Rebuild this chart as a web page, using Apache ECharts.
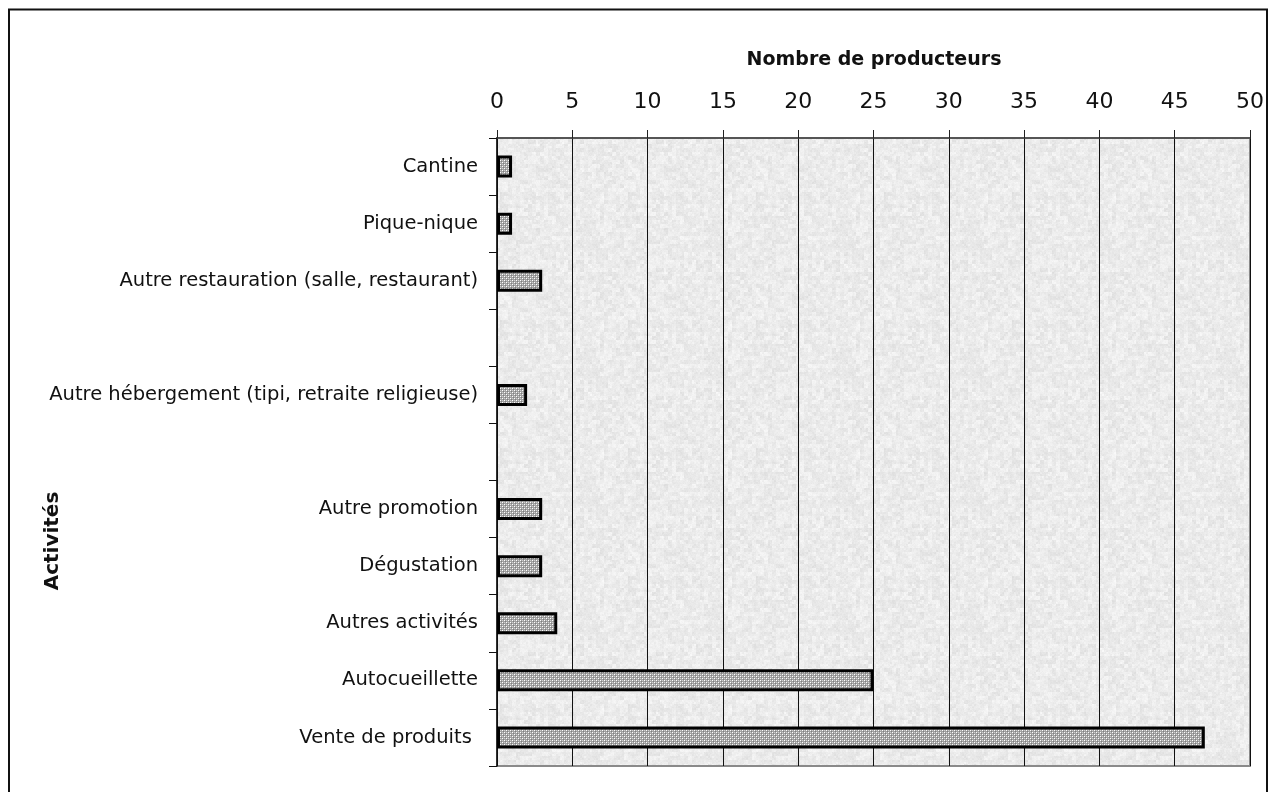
<!DOCTYPE html>
<html>
<head>
<meta charset="utf-8">
<script src="https://cdn.jsdelivr.net/npm/echarts@6/dist/echarts.min.js"></script>
<style>
html,body{margin:0;padding:0;background:#fff;}
#chart{width:1270px;height:792px;}
</style>
</head>
<body>
<div id="chart"></div>
<script>
// ---- data ----
var categories = [
  'Cantine',
  'Pique-nique',
  'Autre restauration (salle, restaurant)',
  '',
  'Autre hébergement (tipi, retraite religieuse)',
  ' ',
  'Autre promotion',
  'Dégustation',
  'Autres activités',
  'Autocueillette',
  'Vente de produits '
];
var producteurs = [1, 1, 3, null, 2, null, 3, 3, 4, 25, 47];
var xTicks = [0, 5, 10, 15, 20, 25, 30, 35, 40, 45, 50];
var xTitle = 'Nombre de producteurs';
var yTitle = 'Activités';

// ---- textures ----
function hatchPattern() {
  var c = document.createElement('canvas');
  c.width = 4; c.height = 4;
  var g = c.getContext('2d');
  g.fillStyle = '#a0a0a0';
  g.fillRect(0, 0, 4, 4);
  g.fillStyle = '#ffffff';
  g.fillRect(0, 0, 1, 1);
  g.fillRect(2, 2, 1, 1);
  g.fillStyle = '#d0d0d0';
  g.fillRect(2, 0, 1, 1);
  g.fillRect(0, 2, 1, 1);
  g.fillStyle = '#808080';
  g.fillRect(1, 1, 1, 1);
  g.fillRect(3, 3, 1, 1);
  return c;
}
function noisePattern() {
  var n = 128;
  var c = document.createElement('canvas');
  c.width = n; c.height = n;
  var g = c.getContext('2d');
  var img = g.createImageData(n, n);
  function h(x, y) {
    var s = Math.sin(x * 127.1 + y * 311.7) * 43758.5453;
    return s - Math.floor(s);
  }
  for (var y = 0; y < n; y++) {
    for (var x = 0; x < n; x++) {
      var v = 0.5 * h(Math.floor(x / 4), Math.floor(y / 4)) + 0.3 * h(Math.floor(x / 2) + 50, Math.floor(y / 2) + 17) + 0.2 * h(x + 91, y + 7);
      var c8 = Math.round(220 + v * 30);
      var i = (y * n + x) * 4;
      img.data[i] = c8; img.data[i + 1] = c8; img.data[i + 2] = c8; img.data[i + 3] = 255;
    }
  }
  g.putImageData(img, 0, 0);
  return c;
}

var chart = echarts.init(document.getElementById('chart'), null, {renderer: 'canvas'});
var option = {
  animation: false,
  backgroundColor: '#ffffff',
  grid: {
    left: 497, top: 138, right: 20, bottom: 26,
    show: true,
    backgroundColor: {image: noisePattern(), repeat: 'repeat'},
    borderColor: '#8a8a8a',
    borderWidth: 2
  },
  xAxis: {
    type: 'value',
    position: 'top',
    min: 0, max: 50, interval: 5,
    axisLine: {show: true, onZero: false, lineStyle: {color: '#444', width: 1.5}},
    axisTick: {show: true, length: 8, lineStyle: {color: '#222', width: 1}},
    axisLabel: {
      margin: 25,
      fontFamily: 'DejaVu Sans', fontSize: 22, color: '#111',
      formatter: function (v) { return xTicks.indexOf(v) >= 0 ? String(v) : ''; }
    },
    splitLine: {show: true, lineStyle: {color: '#111', width: 1}}
  },
  yAxis: {
    type: 'category',
    inverse: true,
    data: categories,
    axisLine: {show: true, lineStyle: {color: '#111', width: 1.5}},
    axisTick: {show: true, length: 8, alignWithLabel: false, lineStyle: {color: '#111', width: 1}},
    axisLabel: {margin: 19, fontFamily: 'DejaVu Sans', fontSize: 19.5, color: '#111'},
    splitLine: {show: false}
  },
  series: [{
    type: 'bar',
    data: producteurs,
    barWidth: 22,
    itemStyle: {
      color: {image: hatchPattern(), repeat: 'repeat'},
      borderColor: '#000',
      borderWidth: 3
    }
  }],
  graphic: [
    {
      type: 'rect', silent: true, z: 100,
      shape: {x: 9, y: 9.5, width: 1258, height: 800},
      style: {fill: null, stroke: '#111', lineWidth: 2}
    },
    {
      type: 'text', z: 100,
      x: 874, y: 60,
      style: {
        text: xTitle,
        font: 'bold 19px "DejaVu Sans"', fill: '#111',
        align: 'center', verticalAlign: 'middle'
      }
    },
    {
      type: 'text', z: 100,
      x: 53, y: 541, rotation: Math.PI / 2,
      style: {
        text: yTitle,
        font: 'bold 20px "DejaVu Sans"', fill: '#111',
        align: 'center', verticalAlign: 'middle'
      }
    }
  ]
};
chart.setOption(option);
</script>
</body>
</html>
